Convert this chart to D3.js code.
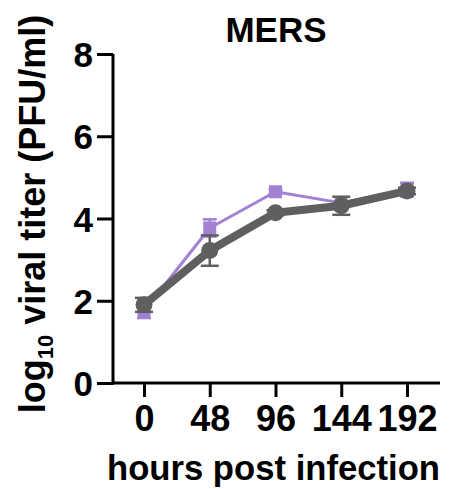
<!DOCTYPE html>
<html>
<head>
<meta charset="utf-8">
<script src="https://cdn.jsdelivr.net/npm/d3@7"></script>
<style>
  body { margin: 0; background: #fff; }
  text { font-family: "Liberation Sans", Arial, sans-serif; font-weight: bold; }
</style>
</head>
<body>
<script>
const width = 449;
const height = 489;

// data
const hours = [0, 48, 96, 144, 192];
const grayMean = [1.9, 3.22, 4.14, 4.31, 4.67];
const graySd = [0.17, 0.37, 0.06, 0.22, 0.08];
const purpleMean = [1.75, 3.77, 4.65, 4.38, 4.7];
const purpleSd = [0.17, 0.21, 0.05, 0.05, 0.17];
const yTicks = [0, 2, 4, 6, 8];

const grayCol = "#5f5f5f";
const purpleCol = "#8558c4";

const svg = d3.select("body")
    .append("svg")
    .attr("width", width)
    .attr("height", height);

const x = d3.scaleLinear().domain([0, 192]).range([144, 407]);
const y = d3.scaleLinear().domain([0, 8]).range([383, 54]);

// axes
const yAxis = svg.append("g")
    .attr("transform", "translate(113,0)")
    .call(d3.axisLeft(y).tickValues(yTicks).tickSize(16).tickPadding(4));
yAxis.select(".domain").attr("d", `M0,${y(8)}V${y(0) + 1.5}`);

const xAxis = svg.append("g")
    .attr("transform", `translate(0,${y(0)})`)
    .call(d3.axisBottom(x).tickValues(hours).tickSize(14).tickPadding(8));
xAxis.select(".domain").attr("d", "M111.5,0H440");

svg.selectAll(".domain, .tick line")
    .attr("stroke", "#000")
    .attr("stroke-width", 3);
yAxis.selectAll(".tick text")
    .attr("font-size", 35)
    .attr("fill", "#000")
    .attr("dy", "0.36em");
xAxis.selectAll(".tick text")
    .attr("font-size", 36)
    .attr("fill", "#000")
    .attr("dy", "0.72em");

// titles
svg.append("text")
    .attr("x", 276)
    .attr("y", 42)
    .attr("text-anchor", "middle")
    .attr("font-size", 35)
    .text("MERS");

svg.append("text")
    .attr("x", 107)
    .attr("y", 480)
    .attr("font-size", 35)
    .attr("textLength", 333)
    .attr("lengthAdjust", "spacingAndGlyphs")
    .text("hours post infection");

const yLabel = svg.append("text")
    .attr("transform", "translate(45,214) rotate(-90)")
    .attr("text-anchor", "middle")
    .attr("font-size", 36);
yLabel.append("tspan").text("log");
yLabel.append("tspan").attr("font-size", 22).attr("dy", 8).text("10");
yLabel.append("tspan").attr("dy", -8).text(" viral titer (PFU/ml)");

// series helper
function drawSeries(mean, sd, color, lineW, opacity, capW) {
    const g = svg.append("g").attr("opacity", opacity);
    const pts = hours.map((h, i) => ({ h, m: mean[i], s: sd[i] }));
    g.append("path")
        .datum(pts)
        .attr("fill", "none")
        .attr("stroke", color)
        .attr("stroke-width", lineW)
        .attr("stroke-linejoin", "round")
        .attr("d", d3.line().x(d => x(d.h)).y(d => y(d.m)));
    const eb = g.selectAll(".eb").data(pts).enter().append("g");
    eb.append("line")
        .attr("x1", d => x(d.h)).attr("x2", d => x(d.h))
        .attr("y1", d => y(d.m + d.s)).attr("y2", d => y(d.m - d.s))
        .attr("stroke", color).attr("stroke-width", 2.5);
    [1, -1].forEach(sgn => {
        eb.append("line")
            .attr("x1", d => x(d.h) - capW / 2).attr("x2", d => x(d.h) + capW / 2)
            .attr("y1", d => y(d.m + sgn * d.s)).attr("y2", d => y(d.m + sgn * d.s))
            .attr("stroke", color).attr("stroke-width", 2.5);
    });
    return { g, pts };
}

const p = drawSeries(purpleMean, purpleSd, purpleCol, 3, 0.75, 14);
p.g.selectAll(".sq").data(p.pts).enter().append("rect")
    .attr("x", d => x(d.h) - 6.5)
    .attr("y", d => y(d.m) - 6.5)
    .attr("width", 13)
    .attr("height", 13)
    .attr("fill", purpleCol);

const gr = drawSeries(grayMean, graySd, grayCol, 8, 1, 18);
gr.g.selectAll(".pt").data(gr.pts).enter().append("circle")
    .attr("cx", d => x(d.h))
    .attr("cy", d => y(d.m))
    .attr("r", 8.5)
    .attr("fill", grayCol);
</script>
</body>
</html>
